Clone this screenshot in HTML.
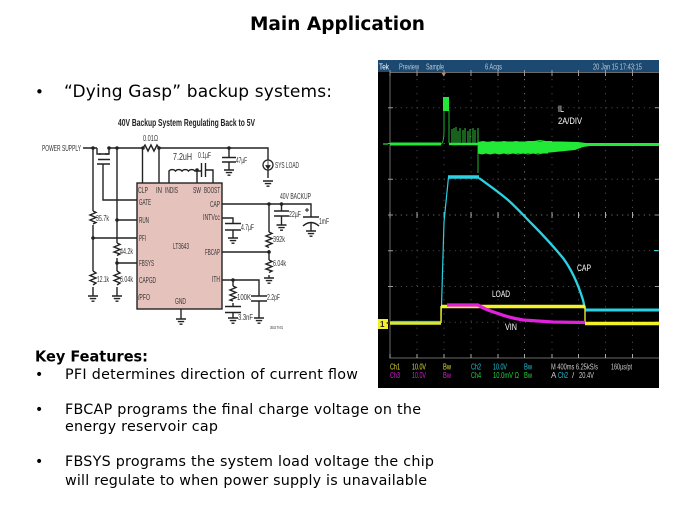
<!DOCTYPE html>
<html><head><meta charset="utf-8"><style>
html,body{margin:0;padding:0;background:#fff;width:675px;height:506px;overflow:hidden}
svg{display:block}
.b{font-family:"DejaVu Sans",sans-serif;fill:#000}
.c text{font-family:"Liberation Sans",sans-serif;font-size:8.5px;fill:#333}
.s text{font-family:"Liberation Sans",sans-serif;font-size:8px;fill:#ccc}
</style></head><body>
<svg width="675" height="506" viewBox="0 0 675 506" xmlns="http://www.w3.org/2000/svg">
<defs>
<filter id="bl" x="-5%" y="-5%" width="110%" height="110%"><feGaussianBlur stdDeviation="0.35"/></filter>
<g id="gnd" fill="none" stroke="#222" stroke-width="1.400"><path d="M-5 0H5M-3.200 2.600H3.200M-1.500 5.200H1.500"/></g>
</defs>
<rect width="675" height="506" fill="#fff"/>

<text class="b" x="250" y="30" font-size="18.500" font-weight="bold" textLength="175" lengthAdjust="spacingAndGlyphs">Main Application</text>
<text class="b" x="35" y="97" font-size="15">•</text>
<text class="b" x="64" y="97" font-size="17" textLength="268" lengthAdjust="spacing">“Dying Gasp” backup systems:</text>
<text class="b" x="35" y="361.500" font-size="15" font-weight="bold" textLength="113" lengthAdjust="spacingAndGlyphs">Key Features:</text>
<text class="b" x="35" y="379" font-size="14">•</text>
<text class="b" x="65" y="379" font-size="14.300" textLength="293" lengthAdjust="spacing">PFI determines direction of current flow</text>
<text class="b" x="35" y="414" font-size="14">•</text>
<text class="b" x="65" y="414" font-size="14.300" textLength="356" lengthAdjust="spacing">FBCAP programs the final charge voltage on the</text>
<text class="b" x="65" y="431" font-size="14.300" textLength="153" lengthAdjust="spacing">energy reservoir cap</text>
<text class="b" x="35" y="466" font-size="14">•</text>
<text class="b" x="65" y="466" font-size="14.300" textLength="369" lengthAdjust="spacing">FBSYS programs the system load voltage the chip</text>
<text class="b" x="65" y="485" font-size="14.300" textLength="362" lengthAdjust="spacing">will regulate to when power supply is unavailable</text>

<!-- circuit -->
<g class="c" filter="url(#bl)">
<rect x="137" y="183" width="85" height="126" fill="#e6c2bc" stroke="#222" stroke-width="1.400"/>
<g fill="none" stroke="#222" stroke-width="1.400">
<path d="M83 148H97M109 148H143M160 148H268V160"/>
<path d="M97 148V154H101M109 148V154H105"/>
<path d="M98 159.500H110M97 164H110M103 164V200H137M99 154H109"/>
<path d="M93 148V211M93 225V271M93 287V296"/>
<path d="M117 148V243M117 258V271M117 287V296"/>
<path d="M93 238H137M117 220H137M117 263H137"/>
<path d="M93 211l3 1.500l-6 2.500l6 2.500l-6 2.500l6 2.500l-3 1.500"/>
<path d="M93 271l3 2l-6 2.500l6 2.500l-6 2.500l6 2.500l-3 2"/>
<path d="M117 243l3 1.500l-6 2.500l6 2.500l-6 2.500l6 2l-3 1.500"/>
<path d="M117 271l3 2l-6 2.500l6 2.500l-6 2.500l6 2.500l-3 2"/>
<path d="M143 148l2 -3l3 6l3 -6l3 6l3 -6l2 3"/>
<path d="M142.500 148V183M159 148V183"/>
<path d="M169 183V171a4.300 4.300 0 0 1 6.500 0a4.300 4.300 0 0 1 6.500 0a4.300 4.300 0 0 1 6.500 0a4.300 4.300 0 0 1 6.500 0H201.500M205.500 170H213V183M197 170V183"/>
<path d="M201.500 163V177M205.500 163V177"/>
<path d="M229 148V157M222 157.500H236M222 162H236M229 162V170"/>
<path d="M268 170V178M222 204H311V217M269 204V232M269 250V260M269 275V278"/>
<path d="M281.500 204V211M274 211H289M274 216H289M281.500 216V225"/>
<path d="M303 217H319M303 226Q311 219 319 226M311 222V231"/>
<path d="M222 218H233V223M225 223.500H241M225 230H241M233 230V238"/>
<path d="M222 252H269M222 280H259V296M233 280V286M251 296H267M251 301H267M259 301V318"/>
<path d="M233 303V306M225 306.500H241M225 312.500H241M233 312.500V318"/>
<path d="M269 232l3 1.500l-6 2.500l6 2.500l-6 2.500l6 2.500l-6 2.500l3 1.500"/>
<path d="M269 260l3 1.500l-6 2.500l6 2.500l-6 2.500l6 2l-3 1.500"/>
<path d="M233 286l3 1.500l-6 2.500l6 2.500l-6 2.500l6 2.500l-6 2.500l3 1"/>
<path d="M181 309V319"/>
</g>
<circle cx="268" cy="165" r="5" fill="#fff" stroke="#222" stroke-width="1.300"/>
<path d="M268 161V168M265.800 165.500L268 169L270.200 165.500Z" fill="#222" stroke="#222" stroke-width=".8"/>
<path d="M307 208V212M305 210H309" stroke="#222" fill="none"/>
<use href="#gnd" x="93" y="296"/><use href="#gnd" x="117" y="296"/><use href="#gnd" x="181" y="319"/>
<use href="#gnd" x="229" y="170"/><use href="#gnd" x="268" y="181"/><use href="#gnd" x="281.500" y="225"/>
<use href="#gnd" x="311" y="231"/><use href="#gnd" x="233" y="238"/><use href="#gnd" x="269" y="278"/>
<use href="#gnd" x="233" y="318"/><use href="#gnd" x="259" y="318"/>
<g fill="#222">
<circle cx="93" cy="148" r="1.800"/><circle cx="109" cy="148" r="1.800"/><circle cx="117" cy="148" r="1.800"/><circle cx="143" cy="148" r="1.800"/><circle cx="159" cy="148" r="1.800"/><circle cx="229" cy="148" r="1.800"/>
<circle cx="197" cy="170" r="1.800"/><circle cx="117" cy="220" r="1.800"/><circle cx="93" cy="238" r="1.800"/><circle cx="117" cy="263" r="1.800"/>
<circle cx="269" cy="204" r="1.800"/><circle cx="281.500" cy="204" r="1.800"/><circle cx="269" cy="252" r="1.800"/><circle cx="233" cy="280" r="1.800"/>
</g>
<text x="118" y="126" font-weight="bold" style="font-size:10.500px;fill:#222" textLength="137" lengthAdjust="spacingAndGlyphs">40V Backup System Regulating Back to 5V</text>
<text x="42" y="151" textLength="39" lengthAdjust="spacingAndGlyphs">POWER SUPPLY</text>
<text x="143" y="141" textLength="15" lengthAdjust="spacingAndGlyphs">0.01Ω</text>
<text x="173" y="160" style="font-size:10px" textLength="19" lengthAdjust="spacingAndGlyphs">7.2uH</text>
<text x="198" y="158" textLength="13" lengthAdjust="spacingAndGlyphs">0.1µF</text>
<text x="236" y="163" textLength="11" lengthAdjust="spacingAndGlyphs">47µF</text>
<text x="275" y="168" textLength="24" lengthAdjust="spacingAndGlyphs">SYS LOAD</text>
<text x="280" y="199" textLength="31" lengthAdjust="spacingAndGlyphs">40V BACKUP</text>
<text x="289" y="217" textLength="12" lengthAdjust="spacingAndGlyphs">22µF</text>
<text x="319" y="224" textLength="10" lengthAdjust="spacingAndGlyphs">1mF</text>
<text x="241" y="230" textLength="13" lengthAdjust="spacingAndGlyphs">4.7µF</text>
<text x="273" y="242" textLength="12" lengthAdjust="spacingAndGlyphs">392k</text>
<text x="273" y="266" textLength="13" lengthAdjust="spacingAndGlyphs">6.04k</text>
<text x="237" y="300" textLength="14" lengthAdjust="spacingAndGlyphs">100K</text>
<text x="267" y="300" textLength="13" lengthAdjust="spacingAndGlyphs">2.2pF</text>
<text x="238" y="320" textLength="15" lengthAdjust="spacingAndGlyphs">3.3nF</text>
<text x="270" y="329" style="font-size:4.500px" textLength="13" lengthAdjust="spacingAndGlyphs">3643 TA01</text>
<text x="96" y="221" textLength="13" lengthAdjust="spacingAndGlyphs">35.7k</text>
<text x="120" y="254" textLength="13" lengthAdjust="spacingAndGlyphs">44.2k</text>
<text x="97" y="282" textLength="12" lengthAdjust="spacingAndGlyphs">12.1k</text>
<text x="120" y="282" textLength="13" lengthAdjust="spacingAndGlyphs">6.04k</text>
<text x="138" y="193" textLength="10" lengthAdjust="spacingAndGlyphs">CLP</text>
<text x="156" y="193" textLength="6" lengthAdjust="spacingAndGlyphs">IN</text>
<text x="165" y="193" textLength="13" lengthAdjust="spacingAndGlyphs">INDIS</text>
<text x="193" y="193" textLength="8" lengthAdjust="spacingAndGlyphs">SW</text>
<text x="204" y="193" textLength="16" lengthAdjust="spacingAndGlyphs">BOOST</text>
<text x="139" y="205" textLength="12" lengthAdjust="spacingAndGlyphs">GATE</text>
<text x="139" y="223" textLength="10" lengthAdjust="spacingAndGlyphs">RUN</text>
<text x="139" y="241" textLength="7" lengthAdjust="spacingAndGlyphs">PFI</text>
<text x="139" y="266" textLength="15" lengthAdjust="spacingAndGlyphs">FBSYS</text>
<text x="139" y="283" textLength="17" lengthAdjust="spacingAndGlyphs">CAPGD</text>
<text x="138" y="300" textLength="12" lengthAdjust="spacingAndGlyphs">/PFO</text>
<text x="175" y="304" textLength="11" lengthAdjust="spacingAndGlyphs">GND</text>
<text x="173" y="249" textLength="16" lengthAdjust="spacingAndGlyphs">LT3643</text>
<text x="210" y="207" textLength="10" lengthAdjust="spacingAndGlyphs">CAP</text>
<text x="203" y="220" textLength="17" lengthAdjust="spacingAndGlyphs">INTVcc</text>
<text x="205" y="255" textLength="15" lengthAdjust="spacingAndGlyphs">FBCAP</text>
<text x="212" y="282" textLength="8" lengthAdjust="spacingAndGlyphs">ITH</text>
</g>

<!-- oscilloscope -->
<g class="s" filter="url(#bl)">
<rect x="378" y="60" width="281" height="328" fill="#000"/>
<rect x="378" y="60" width="281" height="12" fill="#1c4a72"/>
<text x="379" y="69.500" textLength="10" lengthAdjust="spacingAndGlyphs" style="fill:#fff">Tek</text>
<text x="399" y="69.500" textLength="20" lengthAdjust="spacingAndGlyphs" style="fill:#b8c8d4">Preview</text>
<text x="426" y="69.500" textLength="18" lengthAdjust="spacingAndGlyphs" style="fill:#b8c8d4">Sample</text>
<text x="485" y="69.500" textLength="17" lengthAdjust="spacingAndGlyphs" style="fill:#b8c8d4">6 Acqs</text>
<text x="593" y="69.500" textLength="49" lengthAdjust="spacingAndGlyphs" style="fill:#b8c8d4">20 Jan 15 17:43:15</text>
<path d="M441 72H446.500L443.700 76.500Z" fill="#e8833a"/>
<!-- graticule -->
<g fill="none" stroke="#666" stroke-width="1">
<path d="M390 72V358H659M390 72.500H659" stroke="#6a6a6a"/>
<path d="M390 215H659" stroke="#8a8a8a" stroke-width="1" stroke-dasharray="1 4.400"/>
<path d="M524.500 72V358" stroke="#8a8a8a" stroke-width="1" stroke-dasharray="1 6.100"/>
<path d="M390 107.800H659M390 143.500H659M390 179.300H659M390 250.800H659M390 286.500H659M390 322.300H659" stroke="#555" stroke-dasharray="1 4.400"/>
<path d="M417 72V358M444 72V358M471 72V358M498 72V358M552 72V358M578.500 72V358M605.500 72V358M632.500 72V358" stroke="#555" stroke-dasharray="1 6.100"/>
<path d="M390 70V76M417 70V76M444 70V76M471 70V76M498 70V76M524.500 70V76M552 70V76M578.500 70V76M605.500 70V76M632.500 70V76" stroke="#999"/>
<path d="M390 212V218M417 212V218M444 212V218M471 212V218M498 212V218M552 212V218M578.500 212V218M605.500 212V218M632.500 212V218" stroke="#aaa"/>
<path d="M390 354V358M417 354V358M444 354V358M471 354V358M498 354V358M524.500 354V358M552 354V358M578.500 354V358M605.500 354V358M632.500 354V358" stroke="#aaa"/>
<path d="M388 107.800H393M388 143.500H393M388 179.300H393M388 215H393M388 250.800H393M388 286.500H393M388 322.300H393" stroke="#999"/>
<path d="M655 107.800H659M655 143.500H659M655 179.300H659M655 215H659M655 250.800H659M655 286.500H659M655 322.300H659" stroke="#999"/>
</g>
<!-- green -->
<g fill="none" stroke="#22e838">
<path d="M390 144H441" stroke-width="3"/>
<path d="M441 144Q444 143 444 130V110M449 110V143M478 143V173" stroke-width="1" stroke="#1fb52e"/>
<rect x="443" y="97" width="6" height="14" fill="#22e838" stroke="none"/>
<path d="M449 144H478" stroke-width="2.500"/>
<path d="M452 143V129M454 143V128M456 143V127M458 143V131M460 143V128M463 143V130M465 143V128M468 143V131M470 143V129M473 143V128M475 143V130M478 143V128" stroke-width="1" stroke="#2fc03c"/>
<path d="M478 142L500 141.500L560 141.500L578 142L586 143L590 143L659 143L659 146L590 146L583 147L575 150L560 151.500L545 153L520 153L500 153.500L478 153.500Z" fill="#22e838" stroke="none"/>
<path d="M478 153l4 1l4 -1l4 1l5 -1l4 1l5 -1l4 1l5 -1l5 1l5 -1l5 1l5 -1l5 1l5 -1l5 0M478 142.500l5 -1l5 1l5 -1l5 1l6 -1l6 1l6 -1l6 1l6 -1l6 0l6 -1l6 1l6 0" stroke-width="1"/>
<path d="M383 144H388" stroke-width="1.500" stroke="#1fb52e"/>
</g>
<!-- cyan -->
<g fill="none" stroke="#2cd2e4">
<path d="M441 323L444 222L448.500 177" stroke-width="1.200"/>
<path d="M479 178C490 186 500 193 508 200C516 207 525 217 533 225C543 235 553 246 563 258C572 270 578 284 583 300L585 309" stroke-width="2.300"/>
<path d="M585 310H659" stroke-width="3"/>
<path d="M654 250.500H658" stroke-width="1"/>
<path d="M448 177H479" stroke-width="3.500"/>
</g>
<!-- yellow and magenta -->
<path d="M390 323H441" stroke="#e6e62a" stroke-width="3.500" fill="none"/>
<path d="M392 321.500H441" stroke="#2cd2e4" stroke-width="1.200" fill="none"/>
<path d="M441 323V306M585 306V323" stroke="#d8d82a" stroke-width="1.500" fill="none"/>
<path d="M441 306.500H585M585 323.500H659" stroke="#f2f225" stroke-width="3.500" fill="none"/>
<path d="M447 305H478C484 309 490 311 498 313.500C506 316.500 514 318.500 523 320L553 322L585 322.500" stroke="#e020dc" stroke-width="3.200" fill="none"/>
<rect x="378" y="319" width="10" height="10" fill="#f0f02a"/>
<text x="380" y="327" style="fill:#222;font-weight:bold">1</text>
<path d="M386 323L390 321V325Z" fill="#222"/>
<!-- labels -->
<text x="558" y="112" style="fill:#fff;font-size:9.500px" textLength="6" lengthAdjust="spacingAndGlyphs">IL</text>
<text x="558" y="124" style="fill:#fff;font-size:9.500px" textLength="24" lengthAdjust="spacingAndGlyphs">2A/DIV</text>
<text x="577" y="271" style="fill:#fff;font-size:9.500px" textLength="14" lengthAdjust="spacingAndGlyphs">CAP</text>
<text x="492" y="297" style="fill:#fff;font-size:9.500px" textLength="18" lengthAdjust="spacingAndGlyphs">LOAD</text>
<text x="505" y="330" style="fill:#fff;font-size:9.500px" textLength="12" lengthAdjust="spacingAndGlyphs">VIN</text>
<text x="390" y="369.500" textLength="10" lengthAdjust="spacingAndGlyphs" style="fill:#e0e030">Ch1</text>
<text x="412" y="369.500" textLength="14" lengthAdjust="spacingAndGlyphs" style="fill:#e0e030">10.0V</text>
<text x="443" y="369.500" textLength="8" lengthAdjust="spacingAndGlyphs" style="fill:#e0e030">Bw</text>
<text x="471" y="369.500" textLength="10" lengthAdjust="spacingAndGlyphs" style="fill:#2cc4d8">Ch2</text>
<text x="493" y="369.500" textLength="14" lengthAdjust="spacingAndGlyphs" style="fill:#2cc4d8">10.0V</text>
<text x="524" y="369.500" textLength="8" lengthAdjust="spacingAndGlyphs" style="fill:#2cc4d8">Bw</text>
<text x="551" y="369.500" textLength="47" lengthAdjust="spacingAndGlyphs">M 400ms 6.25kS/s</text>
<text x="611" y="369.500" textLength="21" lengthAdjust="spacingAndGlyphs">160µs/pt</text>
<text x="390" y="378" textLength="10" lengthAdjust="spacingAndGlyphs" style="fill:#d820d0">Ch3</text>
<text x="412" y="378" textLength="14" lengthAdjust="spacingAndGlyphs" style="fill:#d820d0">10.0V</text>
<text x="443" y="378" textLength="8" lengthAdjust="spacingAndGlyphs" style="fill:#d820d0">Bw</text>
<text x="471" y="378" textLength="10" lengthAdjust="spacingAndGlyphs" style="fill:#28d040">Ch4</text>
<text x="493" y="378" textLength="26" lengthAdjust="spacingAndGlyphs" style="fill:#28d040">10.0mV Ω</text>
<text x="524" y="378" textLength="8" lengthAdjust="spacingAndGlyphs" style="fill:#28d040">Bw</text>
<text x="551" y="378">A</text>
<text x="558" y="378" textLength="10" lengthAdjust="spacingAndGlyphs" style="fill:#2cc4d8">Ch2</text>
<text x="572" y="378">/</text>
<text x="579" y="378" textLength="15" lengthAdjust="spacingAndGlyphs">20.4V</text>
</g>
</svg>
</body></html>
